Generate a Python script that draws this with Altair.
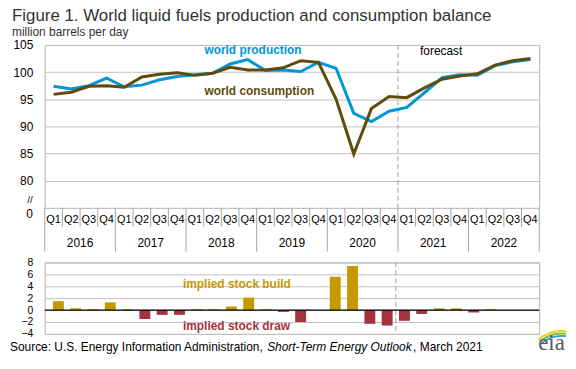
import altair as alt
import pandas as pd

# ---------------- data ----------------
years = [2016, 2017, 2018, 2019, 2020, 2021, 2022]
quarters = ["Q1", "Q2", "Q3", "Q4"]
production = [97.4, 96.9, 97.5, 98.9, 97.3, 97.6, 98.6, 99.2,
              99.5, 99.8, 101.5, 102.3, 100.3, 100.4, 100.1, 101.8,
              100.7, 92.4, 90.9, 92.8, 93.5, 96.2, 99.0, 99.5,
              99.4, 101.2, 101.9, 102.3]
consumption = [95.9, 96.3, 97.4, 97.5, 97.2, 99.1, 99.6, 99.9,
               99.4, 99.8, 100.9, 100.4, 100.4, 100.8, 102.1, 101.8,
               95.0, 84.9, 93.3, 95.5, 95.3, 97.1, 98.7, 99.3,
               99.7, 101.3, 102.1, 102.5]
stock_change = [1.5, 0.3, 0.15, 1.3, 0.15, -1.5, -0.8, -0.8,
                0.15, 0.15, 0.6, 2.1, 0.15, -0.3, -2.0, 0.0,
                5.6, 7.4, -2.3, -2.6, -1.8, -0.65, 0.3, 0.3,
                -0.4, 0.15, 0.0, 0.0]
forecast_start = (2021, "Q1")
top_ticks = [80, 85, 90, 95, 100, 105]
bottom_ticks = [-4, -2, 0, 2, 4, 6, 8]

TITLE = "Figure 1. World liquid fuels production and consumption balance"
SUBTITLE = "million barrels per day"
SRC1 = "Source: U.S. Energy Information Administration, "
SRC2 = "Short-Term Energy Outlook"
SRC3 = ", March 2021"

# ---------------- tables ----------------
n = len(years) * len(quarters)
df = pd.DataFrame({
    "i": list(range(n)),
    "q": quarters * len(years),
    "year": [y for y in years for _ in quarters],
    "production": production,
    "consumption": consumption,
    "stock": stock_change,
})
df["kind"] = ["build" if s >= 0 else "draw" for s in stock_change]
fc_idx = years.index(forecast_start[0]) * 4 + quarters.index(forecast_start[1])

year_df = pd.DataFrame({"year": [str(y) for y in years],
                        "c": [k * 4 + 1.5 for k in range(len(years))]})
year_sep = pd.DataFrame({"p": [k * 4 - 0.5 for k in range(len(years) + 1)]})
q_sep = pd.DataFrame({"p": [k * 4 + j - 0.5 for k in range(len(years)) for j in (1, 2, 3)]})

FONT = "Liberation Sans"
BLUE = "#0096d7"
BROWN = "#5f4b0b"
GOLD = "#c49a00"
RED = "#a33340"
GRID = "#c0c0c0"
SEP = "#a6a6a6"

# layout (pixels)
W, H1, H2, GAP = 498, 164, 72, 55
PAD_L, PAD_T = 37, 36
SVG_W, SVG_H = 564, 347

xs = alt.Scale(domain=[-0.5, n - 0.5], nice=False, zero=False)
ys1 = alt.Scale(domain=[75, 105], nice=False, zero=False)
ys2 = alt.Scale(domain=[-4, 8], nice=False, zero=False)
AX1 = alt.Axis(values=top_ticks, title=None)
AX2 = alt.Axis(values=bottom_ticks, title=None, labelFontSize=10.5)

def one(**kw):
    return pd.DataFrame({k: [v] for k, v in kw.items()})

X = lambda f: alt.X(f, scale=xs, axis=None)
Y1 = lambda f: alt.Y(f, scale=ys1, axis=AX1)
Y2 = lambda f: alt.Y(f, scale=ys2, axis=AX2)

# ---------------- top panel ----------------
base = alt.Chart(df)
prod_line = base.mark_line(color=BLUE, strokeWidth=3).encode(x=X("i:Q"), y=Y1("production:Q"))
cons_line = base.mark_line(color=BROWN, strokeWidth=3).encode(x=X("i:Q"), y=Y1("consumption:Q"))
fc_rule_top = alt.Chart(one(p=fc_idx - 0.5)).mark_rule(
    color="#a0a0a0", strokeDash=[5, 3], strokeWidth=1).encode(x=X("p:Q"))

ann_top = pd.DataFrame({
    "i": [8.54, 8.54], "v": [104.0, 96.6],
    "t": ["world production", "world consumption"], "c": [BLUE, BROWN]})
ann_top_txt = alt.Chart(ann_top).mark_text(
    align="left", baseline="middle", fontWeight="bold", fontSize=12, font=FONT).encode(
    x=X("i:Q"), y=Y1("v:Q"), text="t:N", color=alt.Color("c:N", scale=None))
fc_txt = alt.Chart(one(i=20.75, v=103.8, t="forecast")).mark_text(
    align="left", baseline="middle", fontSize=12, font=FONT, color="#000").encode(
    x=X("i:Q"), y=Y1("v:Q"), text="t:N")

q_lbl = base.mark_text(fontSize=11, font=FONT, color="#000", baseline="middle").encode(
    x=X("i:Q"), y=alt.value(H1 + 12), text="q:N")
y_lbl = alt.Chart(year_df).mark_text(fontSize=12, font=FONT, color="#000", baseline="middle").encode(
    x=X("c:Q"), y=alt.value(H1 + 35), text="year:N")
q_rules = alt.Chart(q_sep).mark_rule(color=SEP, strokeWidth=1).encode(
    x=X("p:Q"), y=alt.value(H1), y2=alt.value(H1 + 19))
y_rules = alt.Chart(year_sep).mark_rule(color=SEP, strokeWidth=1).encode(
    x=X("p:Q"), y=alt.value(H1), y2=alt.value(H1 + 44))

zero_lbl = alt.Chart(one(t="0")).mark_text(
    align="right", baseline="middle", fontSize=12, font=FONT, color="#000").encode(
    x=alt.value(-12), y=alt.value(H1 + 6), text="t:N")
brk_lbl = alt.Chart(one(t="//")).mark_text(
    align="right", baseline="middle", fontSize=10, font=FONT, color="#000").encode(
    x=alt.value(-12), y=alt.value(H1 - 8), text="t:N")

title_txt = alt.Chart(one(t=TITLE)).mark_text(
    align="left", baseline="alphabetic", fontSize=17, font=FONT, color="#333333").encode(
    x=alt.value(-33), y=alt.value(-24.1), text="t:N")
sub_txt = alt.Chart(one(t=SUBTITLE)).mark_text(
    align="left", baseline="alphabetic", fontSize=12, font=FONT, color="#333333").encode(
    x=alt.value(-33), y=alt.value(-9.5), text="t:N")

top = alt.layer(
    q_rules, y_rules, fc_rule_top, prod_line, cons_line, ann_top_txt, fc_txt,
    q_lbl, y_lbl, zero_lbl, brk_lbl, title_txt, sub_txt,
).properties(width=W, height=H1)

# ---------------- bottom panel ----------------
bars = base.mark_bar(size=11).encode(
    x=X("i:Q"), y=Y2("stock:Q"),
    color=alt.Color("kind:N", scale=alt.Scale(domain=["build", "draw"], range=[GOLD, RED]),
                    legend=None),
)
zero_rule = alt.Chart(one(v=0)).mark_rule(color="#000", strokeWidth=1.2).encode(y=Y2("v:Q"))
fc_rule_bot = alt.Chart(one(p=fc_idx - 0.5)).mark_rule(
    color="#a0a0a0", strokeDash=[5, 3], strokeWidth=1).encode(x=X("p:Q"))
ann_bot = pd.DataFrame({
    "i": [7.2, 7.2], "v": [4.3, -2.6],
    "t": ["implied stock build", "implied stock draw"], "c": [GOLD, RED]})
ann_bot_txt = alt.Chart(ann_bot).mark_text(
    align="left", baseline="middle", fontWeight="bold", fontSize=12, font=FONT).encode(
    x=X("i:Q"), y=Y2("v:Q"), text="t:N", color=alt.Color("c:N", scale=None))

SRC_Y = H2 + 17
src1 = alt.Chart(one(t=SRC1)).mark_text(
    align="left", baseline="alphabetic", fontSize=12, font=FONT, color="#000").encode(
    x=alt.value(-35), y=alt.value(SRC_Y), text="t:N")
src2 = alt.Chart(one(t=SRC2)).mark_text(
    align="left", baseline="alphabetic", fontSize=12, font=FONT, color="#000",
    fontStyle="italic").encode(x=alt.value(224), y=alt.value(SRC_Y), text="t:N")
src3 = alt.Chart(one(t=SRC3)).mark_text(
    align="left", baseline="alphabetic", fontSize=12, font=FONT, color="#000").encode(
    x=alt.value(371), y=alt.value(SRC_Y), text="t:N")

logo_txt = alt.Chart(one(t="eia")).mark_text(
    align="left", baseline="alphabetic", fontSize=23, font="Liberation Serif",
    color="#5a5a5a").encode(x=alt.value(497), y=alt.value(H2 + 16), text="t:N")
arcs = pd.DataFrame({
    "r0": [32.0, 34.5, 37.0], "r1": [34.0, 36.5, 39.0],
    "c": ["#2c9ad7", "#7bc143", "#f2cf1d"]})
logo_arcs = alt.Chart(arcs).mark_arc(theta=5.6, theta2=6.4).encode(
    x=alt.value(521), y=alt.value(H2 + 35),
    radius=alt.Radius("r1:Q", scale=None), radius2=alt.Radius2("r0:Q"),
    color=alt.Color("c:N", scale=None))

bottom = alt.layer(
    fc_rule_bot, bars, zero_rule, ann_bot_txt, src1, src2, src3, logo_arcs, logo_txt,
).properties(width=W, height=H2)

# with autosize "none" the svg is (pad_l + W + pad_r) wide and (pad_t + pad_b) tall
chart = alt.vconcat(top, bottom, spacing=GAP, bounds="flush").properties(
    autosize=alt.AutoSizeParams(type="none"),
    padding={"left": PAD_L, "top": PAD_T,
             "right": SVG_W - PAD_L - W, "bottom": SVG_H - PAD_T},
).configure_view(
    stroke="#b3b3b3", strokeWidth=1
).configure_axis(
    labelFont=FONT, labelFontSize=12, labelColor="#000", gridColor=GRID,
    domain=False, ticks=False, labelPadding=12, labelOverlap=False, labelFlush=False,
)

chart.save("out.html", embed_options={"renderer": "svg", "actions": False})
